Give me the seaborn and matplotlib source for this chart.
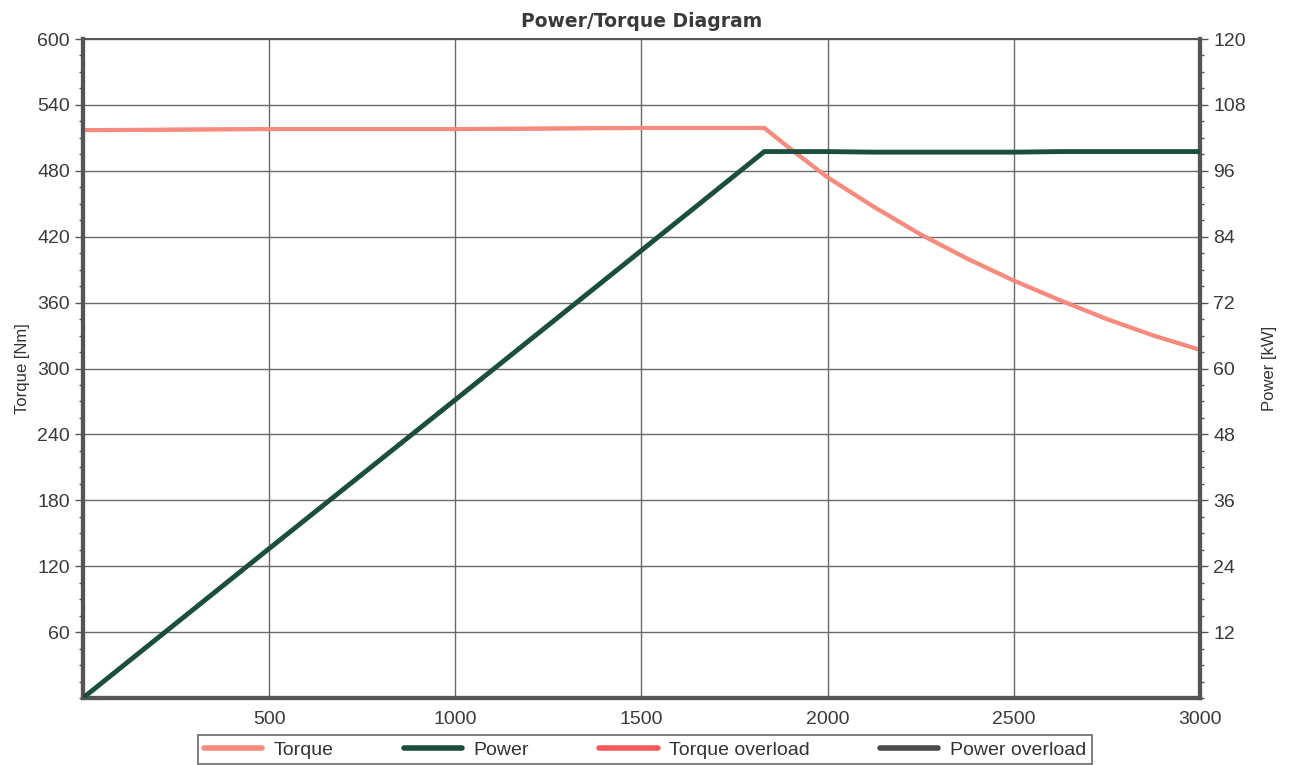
import pandas as pd
import matplotlib.pyplot as plt
import seaborn as sns
from matplotlib.ticker import MultipleLocator
from matplotlib.lines import Line2D

# values
rpm = [0, 500, 1000, 1500, 1830, 1900, 2000, 2125, 2250, 2375, 2500, 2625, 2750, 2875, 3000]
torque = [517, 518, 518, 519, 519, 500, 474, 447, 422, 400, 380, 362, 345, 330, 317]
power = [0, 27.2, 54.3, 81.5, 99.5, 99.5, 99.5, 99.4, 99.4, 99.4, 99.4, 99.5, 99.5, 99.5, 99.5]
torque_overload = [517, 518, 518, 519, 519, 500, 474, 447, 422, 400, 380, 362, 345, 330, 317]
power_overload = [0, 27.2, 54.3, 81.5, 99.5, 99.5, 99.5, 99.4, 99.4, 99.4, 99.4, 99.5, 99.5, 99.5, 99.5]

df = pd.DataFrame({'rpm': rpm, 'torque': torque, 'power': power,
                   'torque_ov': torque_overload, 'power_ov': power_overload})

sns.set_style("white")
plt.rcParams['font.family'] = ['Liberation Sans', 'DejaVu Sans']

c_torque = '#f98a7e'
c_power = '#1b4f3c'
c_torque_ov = '#f45a5a'
c_power_ov = '#4a4a4a'
frame = '#555555'

fig = plt.figure(figsize=(12.9, 7.65), dpi=100)
ax = fig.add_axes([0.0643, 0.0876, 0.8659, 0.8614])
ax2 = ax.twinx()

sns.lineplot(data=df, x='rpm', y='torque_ov', ax=ax, color=c_torque_ov, lw=2.5, zorder=2)
sns.lineplot(data=df, x='rpm', y='torque', ax=ax, color=c_torque, lw=3, zorder=3)
sns.lineplot(data=df, x='rpm', y='power_ov', ax=ax2, color=c_power_ov, lw=2.5, zorder=2)
sns.lineplot(data=df, x='rpm', y='power', ax=ax2, color=c_power, lw=3.5, zorder=3)

ax.set_xlim(0, 3000)
ax.set_ylim(0, 600)
ax2.set_ylim(0, 120)

ax.xaxis.set_minor_locator(MultipleLocator(125))
ax.yaxis.set_minor_locator(MultipleLocator(15))
ax2.yaxis.set_minor_locator(MultipleLocator(3))

ax.set_xticks(range(500, 3001, 500))
ax.set_yticks(range(60, 601, 60))
ax2.set_yticks(range(12, 121, 12))

ax.grid(True, which='major', color='#6a6a6a', lw=1.0)
ax.set_axisbelow(True)

for a in (ax, ax2):
    a.tick_params(which='major', direction='out', length=6, width=1, colors=frame,
                  labelsize=14, labelcolor='#3a3a3a')
    a.tick_params(which='minor', direction='out', length=3, width=1, colors=frame)
    for s in ('left', 'right', 'bottom'):
        a.spines[s].set_color(frame)
        a.spines[s].set_linewidth(3)
    a.spines['top'].set_color(frame)
    a.spines['top'].set_linewidth(1.2)

ax.set_xlabel('')
ax.set_ylabel('Torque [Nm]', fontsize=12, color='#333333', labelpad=5)
ax2.set_ylabel('Power [kW]', fontsize=12, color='#333333', labelpad=12)
ax.set_title('Power/Torque Diagram', fontsize=13.5, fontweight='bold', color='#3a3a3a',
             family='DejaVu Sans', pad=9)

handles = [Line2D([], [], color=c_torque, lw=4),
           Line2D([], [], color=c_power, lw=4),
           Line2D([], [], color=c_torque_ov, lw=4),
           Line2D([], [], color=c_power_ov, lw=4)]
labels = ['Torque', 'Power', 'Torque overload', 'Power overload']
leg = fig.legend(handles, labels, loc='lower center', bbox_to_anchor=(0.5, -0.012), ncol=4,
                 frameon=True, fancybox=False, fontsize=14, handlelength=3,
                 handletextpad=0.6, columnspacing=3.6, borderpad=0.3)
leg.get_frame().set_edgecolor('#444444')
leg.get_frame().set_linewidth(1.2)
for t in leg.get_texts():
    t.set_color('#333333')

fig.savefig('out.png', dpi=100)
